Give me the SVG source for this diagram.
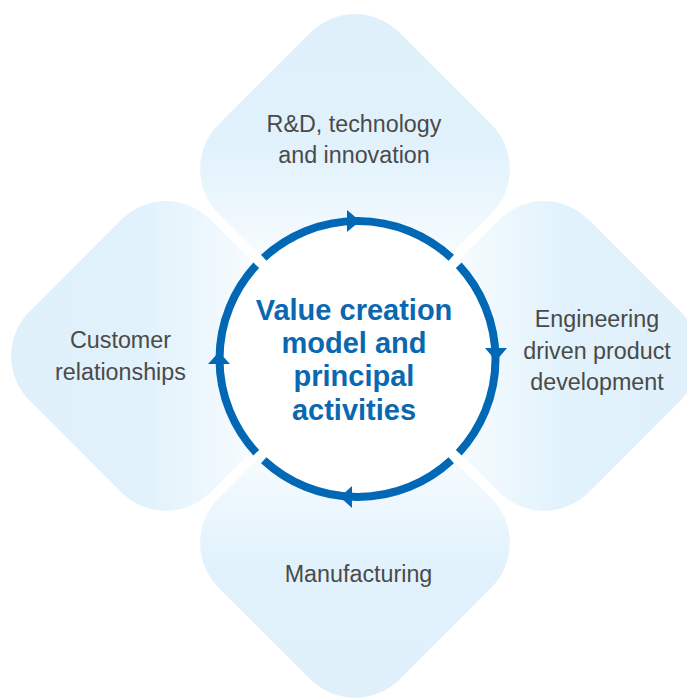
<svg xmlns="http://www.w3.org/2000/svg" width="687" height="698" viewBox="0 0 687 698">
  <defs>
    <linearGradient id="gTop" x1="0" y1="0" x2="0" y2="1">
      <stop offset="0" stop-color="#dff0fb"/>
      <stop offset="0.45" stop-color="#e2f2fc"/>
      <stop offset="0.8" stop-color="#f8fcfe"/>
      <stop offset="1" stop-color="#ffffff"/>
    </linearGradient>
    <linearGradient id="gBottom" x1="0" y1="1" x2="0" y2="0">
      <stop offset="0" stop-color="#dff0fb"/>
      <stop offset="0.45" stop-color="#e2f2fc"/>
      <stop offset="0.8" stop-color="#f8fcfe"/>
      <stop offset="1" stop-color="#ffffff"/>
    </linearGradient>
    <linearGradient id="gLeft" x1="0" y1="0" x2="1" y2="0">
      <stop offset="0" stop-color="#dff0fb"/>
      <stop offset="0.45" stop-color="#e2f2fc"/>
      <stop offset="0.8" stop-color="#f8fcfe"/>
      <stop offset="1" stop-color="#ffffff"/>
    </linearGradient>
    <linearGradient id="gRight" x1="1" y1="0" x2="0" y2="0">
      <stop offset="0" stop-color="#dff0fb"/>
      <stop offset="0.45" stop-color="#e2f2fc"/>
      <stop offset="0.8" stop-color="#f8fcfe"/>
      <stop offset="1" stop-color="#ffffff"/>
    </linearGradient>
    <path id="diamond" d="M-44.5,-136.5 A63,63 0 0 1 44.5,-136.5 L136.5,-44.5 A63,63 0 0 1 136.5,44.5 L44.5,136.5 A63,63 0 0 1 -44.5,136.5 L-136.5,44.5 A63,63 0 0 1 -136.5,-44.5 Z"/>
  </defs>
  <style>
    .label { font-family: "Liberation Sans", Arial, Helvetica, sans-serif; font-size: 23.3px; fill: #4a4a4a; text-anchor: middle; }
    .title { font-family: "Liberation Sans", Arial, Helvetica, sans-serif; font-size: 29px; font-weight: bold; fill: #0a68b0; text-anchor: middle; }
    .ring { fill: none; stroke: #0068b4; stroke-width: 8; stroke-linecap: butt; }
    .head { fill: #0068b4; }
  </style>
  <rect width="687" height="698" fill="#ffffff"/>

  <g id="node-rd">
    <use href="#diamond" transform="translate(355,169)" fill="url(#gTop)"/>
    <text class="label" x="354" y="132">R&amp;D, technology</text>
    <text class="label" x="354" y="163">and innovation</text>
  </g>
  <g id="node-engineering">
    <use href="#diamond" transform="translate(544,356)" fill="url(#gRight)"/>
    <text class="label" x="597" y="327">Engineering</text>
    <text class="label" x="597" y="358.5">driven product</text>
    <text class="label" x="597" y="390">development</text>
  </g>
  <g id="node-manufacturing">
    <use href="#diamond" transform="translate(355,543)" fill="url(#gBottom)"/>
    <text class="label" x="358.5" y="582">Manufacturing</text>
  </g>
  <g id="node-customer">
    <use href="#diamond" transform="translate(166,356)" fill="url(#gLeft)"/>
    <text class="label" x="120.5" y="348">Customer</text>
    <text class="label" x="120.5" y="380">relationships</text>
  </g>

  <g id="node-center">
    <circle cx="357.5" cy="359" r="138" fill="#ffffff"/>
    <text class="title" x="354" y="319.5">Value creation</text>
    <text class="title" x="354" y="352.5">model and</text>
    <text class="title" x="354" y="386">principal</text>
    <text class="title" x="354" y="420">activities</text>
  </g>

  <g id="connectors">
    <path class="ring" d="M263.74,257.75 A138,138 0 0 1 451.26,257.75"/>
    <path class="ring" d="M458.75,265.24 A138,138 0 0 1 458.75,452.76"/>
    <path class="ring" d="M451.26,460.25 A138,138 0 0 1 263.74,460.25"/>
    <path class="ring" d="M256.25,452.76 A138,138 0 0 1 256.25,265.24"/>
    <polygon class="head" points="360,221 347,210 347,232"/>
    <polygon class="head" points="496,361 485,348 507,348"/>
    <polygon class="head" points="340,497 352,486 352,508"/>
    <polygon class="head" points="219,352 208,364 230,364"/>
  </g>
</svg>
